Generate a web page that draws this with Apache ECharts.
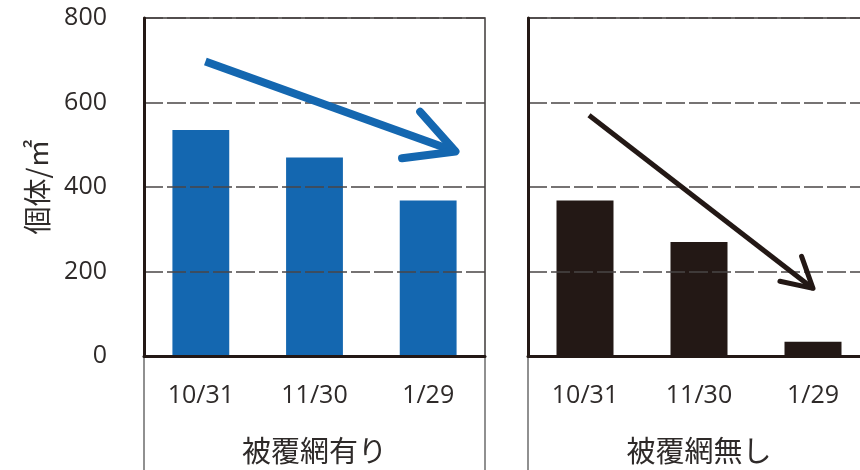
<!DOCTYPE html>
<html>
<head>
<meta charset="utf-8">
<script src="https://cdn.jsdelivr.net/npm/echarts@6/dist/echarts.min.js"></script>
<style>html,body{margin:0;padding:0;background:#fff}#c{width:860px;height:470px}</style>
</head>
<body>
<div id="c"></div>
<script>
// ---- data ----
const categories = ['10/31', '11/30', '1/29'];
const withNet = [535, 470, 368];      // 被覆網有り
const withoutNet = [368, 270, 34];    // 被覆網無し
const panelTitles = ['被覆網有り', '被覆網無し'];
const yTicks = [0, 200, 400, 600, 800];
const yName = '個体/㎡';
// trend arrows: [category index, value] for start, tip, wing A, wing B
const arrowWith = [[0.04, 697], [2.24, 484], [1.93, 578], [1.77, 468]];
const arrowWithout = [[0.035, 570], [2.0, 160], [1.90, 236], [1.71, 177]];

// ---- layout ----
const G = [{left: 144, top: 18, width: 341, height: 338}, {left: 528, top: 18, width: 342, height: 338}];
const txt = '#2e2a29', ink = '#231815', blue = '#1467b0';
const latin = "'Open Sans', 'Noto Sans CJK JP', sans-serif";
const cjk = "'Noto Sans CJK JP', sans-serif";

const chart = echarts.init(document.getElementById('c'), null, {renderer: 'canvas'});

function xAxisFor(i) {
  return {
    type: 'category', gridIndex: i, data: categories,
    axisLine: {show: true, lineStyle: {color: ink, width: 3}},
    axisTick: {show: false},
    axisLabel: {margin: 27, fontSize: 25, color: txt, fontFamily: latin},
    name: panelTitles[i], nameLocation: 'middle', nameGap: 80,
    nameTextStyle: {fontSize: 29, color: txt, fontFamily: cjk},
    z: 5
  };
}
function yAxisFor(i) {
  return {
    type: 'value', gridIndex: i, min: yTicks[0], max: yTicks[yTicks.length - 1],
    interval: yTicks[1] - yTicks[0],
    axisLine: {show: true, lineStyle: {color: ink, width: 3}},
    axisTick: {show: false},
    axisLabel: {show: i === 0, margin: 37, fontSize: 25, color: txt, fontFamily: latin},
    splitLine: {show: true, lineStyle: {color: '#4a4645', width: 1.5, type: [19, 4]}},
    name: i === 0 ? yName : '', nameLocation: 'middle', nameGap: 93, nameRotate: 90,
    nameTextStyle: {fontSize: 28, color: txt, fontFamily: cjk},
    z: 5
  };
}

chart.setOption({
  animation: false,
  backgroundColor: '#fff',
  grid: G.map(g => Object.assign({show: true, borderColor: '#3e3a39', borderWidth: 1.5, backgroundColor: 'transparent',
    containLabel: false, outerBoundsMode: 'none'}, g)),
  xAxis: [xAxisFor(0), xAxisFor(1)],
  yAxis: [yAxisFor(0), yAxisFor(1)],
  series: [
    {type: 'bar', xAxisIndex: 0, yAxisIndex: 0, data: withNet, barWidth: '50%', itemStyle: {color: blue}},
    {type: 'bar', xAxisIndex: 1, yAxisIndex: 1, data: withoutNet, barWidth: '50%', itemStyle: {color: ink}}
  ]
});

function px(gridIndex, p) {
  const a = chart.convertToPixel({gridIndex}, [0, p[1]]);
  const b = chart.convertToPixel({gridIndex}, [1, p[1]]);
  return [a[0] + p[0] * (b[0] - a[0]), a[1]];
}
function arrow(gridIndex, def, color, w) {
  const s = px(gridIndex, def[0]), t = px(gridIndex, def[1]), wa = px(gridIndex, def[2]), wb = px(gridIndex, def[3]);
  return [
    {type: 'polyline', z: 20, shape: {points: [s, t]}, style: {stroke: color, lineWidth: w, fill: null, lineCap: 'butt'}},
    {type: 'polyline', z: 20, shape: {points: [wa, t, wb]}, style: {stroke: color, lineWidth: w, fill: null, lineCap: 'round', lineJoin: 'round'}}
  ];
}
const frameLines = [];
[G[0].left, G[0].left + G[0].width, G[1].left].forEach(x => {
  frameLines.push({type: 'line', z: 1, shape: {x1: x, y1: G[0].top + G[0].height, x2: x, y2: 470},
    style: {stroke: '#6b6b6b', lineWidth: 1.5}});
});
chart.setOption({graphic: frameLines.concat(arrow(0, arrowWith, blue, 8), arrow(1, arrowWithout, ink, 5))});
</script>
</body>
</html>
